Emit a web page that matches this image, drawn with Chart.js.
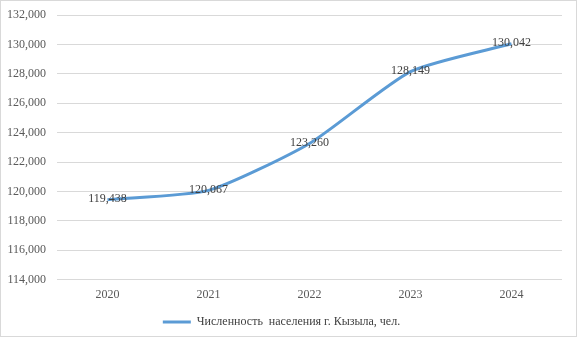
<!DOCTYPE html>
<html>
<head>
    <script src="https://cdn.jsdelivr.net/npm/chart.js@4.4.0/dist/chart.umd.min.js"></script>
    <style>
        html, body { margin: 0; padding: 0; background: white; }
        #wrap {
            width: 577px; height: 337px; box-sizing: border-box;
            border: 1px solid #d9d9d9;
        }
        canvas { display: block; }
    </style>
</head>
<body>
<div id="wrap"><canvas id="chart" width="575" height="335"></canvas></div>
<script>
    const years = ['2020', '2021', '2022', '2023', '2024'];
    const population = [119438, 120067, 123260, 128149, 130042];
    const seriesLabel = 'Численность  населения г. Кызыла, чел.';
    const yMin = 114000, yMax = 132000, yStep = 2000;

    const fmt = v => v.toLocaleString('en-US');
    const serif = "'Liberation Serif', 'Times New Roman', serif";

    // draws the value next to each point
    const valueLabels = {
        id: 'valueLabels',
        afterDatasetsDraw(chart) {
            const ctx = chart.ctx;
            const meta = chart.getDatasetMeta(0);
            ctx.save();
            ctx.font = '12px ' + serif;
            ctx.fillStyle = '#404040';
            ctx.textAlign = 'center';
            ctx.textBaseline = 'middle';
            meta.data.forEach((pt, i) => {
                ctx.fillText(fmt(population[i]), pt.x, pt.y - 1);
            });
            ctx.restore();
        }
    };

    const chart = new Chart(document.getElementById('chart'), {
        type: 'line',
        data: {
            labels: years,
            datasets: [{
                label: seriesLabel,
                data: population,
                borderColor: '#5b9bd5',
                backgroundColor: '#5b9bd5',
                borderWidth: 3,
                pointRadius: 0,
                tension: 0.2,
                fill: false
            }]
        },
        options: {
            responsive: false,
            animation: false,
            devicePixelRatio: 1,
            layout: { padding: { top: 14, right: 14, left: 0, bottom: -2 } },
            plugins: {
                tooltip: { enabled: false },
                legend: {
                    position: 'bottom',
                    labels: {
                        usePointStyle: true,
                        pointStyle: 'line',
                        pointStyleWidth: 28,
                        color: '#404040',
                        font: { family: serif, size: 12 },
                        padding: 8
                    }
                }
            },
            scales: {
                x: {
                    offset: true,
                    grid: { display: false },
                    border: { display: false },
                    ticks: { color: '#595959', font: { family: serif, size: 12 }, padding: 0 },
                    afterFit: s => { s.height += 6; }
                },
                y: {
                    min: yMin,
                    max: yMax,
                    border: { display: false },
                    grid: { color: '#d9d9d9', drawTicks: false },
                    ticks: {
                        stepSize: yStep,
                        color: '#595959',
                        font: { family: serif, size: 12 },
                        padding: 11,
                        callback: v => fmt(v)
                    },
                    afterFit: s => { s.width = 56; s.paddingTop = 0; s.paddingBottom = 0; }
                }
            }
        },
        plugins: [valueLabels]
    });
</script>
</body>
</html>
